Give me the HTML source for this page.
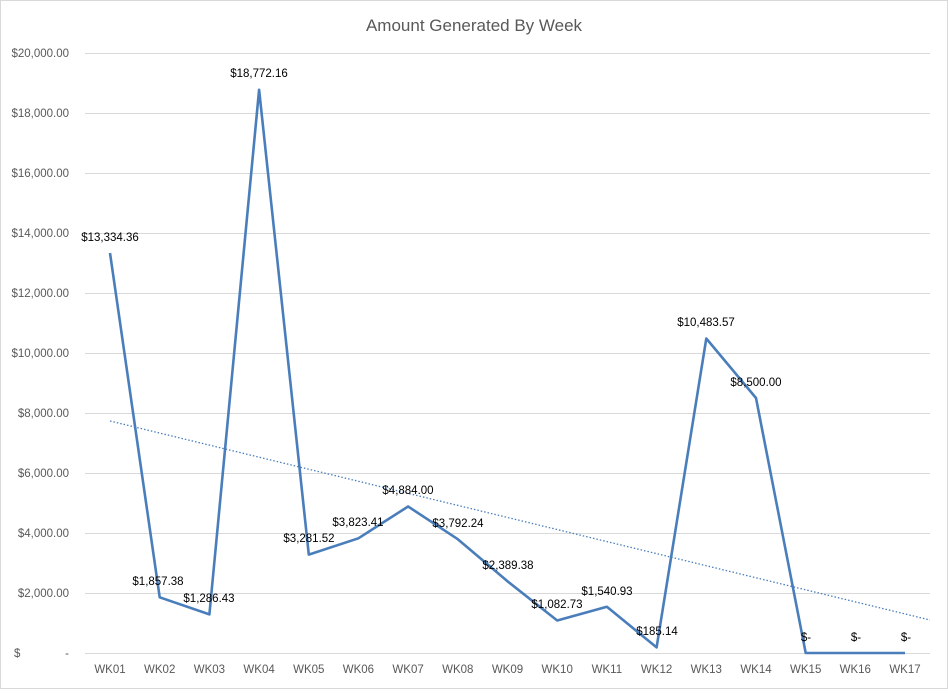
<!DOCTYPE html>
<html><head><meta charset="utf-8"><style>
body{margin:0;background:#fff;}
svg text{font-family:"Liberation Sans",sans-serif;}
</style></head><body>
<svg width="948" height="689" xmlns="http://www.w3.org/2000/svg">
<rect x="0.5" y="0.5" width="947" height="688" fill="#fff" stroke="#d9d9d9"/>
<text x="474" y="31" text-anchor="middle" font-size="17" fill="#595959">Amount Generated By Week</text>
<g stroke="#d9d9d9" stroke-width="1">
<line x1="85" x2="930" y1="53.5" y2="53.5"/><line x1="85" x2="930" y1="113.5" y2="113.5"/>
<line x1="85" x2="930" y1="173.5" y2="173.5"/><line x1="85" x2="930" y1="233.5" y2="233.5"/>
<line x1="85" x2="930" y1="293.5" y2="293.5"/><line x1="85" x2="930" y1="353.5" y2="353.5"/>
<line x1="85" x2="930" y1="413.5" y2="413.5"/><line x1="85" x2="930" y1="473.5" y2="473.5"/>
<line x1="85" x2="930" y1="533.5" y2="533.5"/><line x1="85" x2="930" y1="593.5" y2="593.5"/>
<line x1="85" x2="930" y1="653.5" y2="653.5"/>
</g>
<g font-size="11.5" fill="#595959" text-anchor="end">
<text x="69" y="57">$20,000.00</text><text x="69" y="117">$18,000.00</text>
<text x="69" y="177">$16,000.00</text><text x="69" y="237">$14,000.00</text>
<text x="69" y="297">$12,000.00</text><text x="69" y="357">$10,000.00</text>
<text x="69" y="417">$8,000.00</text><text x="69" y="477">$6,000.00</text>
<text x="69" y="537">$4,000.00</text><text x="69" y="597">$2,000.00</text>
</g>
<text x="14" y="657" font-size="11.5" fill="#595959">$</text><text x="69" y="657" font-size="11.5" fill="#595959" text-anchor="end">-</text>
<g font-size="11.5" fill="#595959" text-anchor="middle">
<text x="110" y="673">WK01</text><text x="159.7" y="673">WK02</text><text x="209.4" y="673">WK03</text>
<text x="259.1" y="673">WK04</text><text x="308.8" y="673">WK05</text><text x="358.4" y="673">WK06</text>
<text x="408.1" y="673">WK07</text><text x="457.8" y="673">WK08</text><text x="507.5" y="673">WK09</text>
<text x="557.2" y="673">WK10</text><text x="606.9" y="673">WK11</text><text x="656.6" y="673">WK12</text>
<text x="706.3" y="673">WK13</text><text x="756" y="673">WK14</text><text x="805.7" y="673">WK15</text>
<text x="855.3" y="673">WK16</text><text x="905" y="673">WK17</text>
</g>
<line x1="110" y1="421" x2="930" y2="620" stroke="#4a7ebb" stroke-width="1.3" stroke-dasharray="1.5,2"/>
<polyline fill="none" stroke="#4a7ebb" stroke-width="2.6" stroke-linejoin="round" points="110,253 159.7,597.3 209.4,614.4 259.1,89.8 308.8,554.6 358.4,538.3 408.1,506.5 457.8,539.2 507.5,581.3 557.2,620.5 606.9,606.8 656.6,647.4 706.3,338.5 756,398 805.7,653 855.3,653 905,653"/>
<g font-size="11.5" fill="#000" text-anchor="middle">
<text x="110" y="241">$13,334.36</text><text x="158" y="585">$1,857.38</text>
<text x="209" y="602">$1,286.43</text><text x="259" y="77">$18,772.16</text>
<text x="309" y="542">$3,281.52</text><text x="358" y="526">$3,823.41</text>
<text x="408" y="494">$4,884.00</text><text x="458" y="527">$3,792.24</text>
<text x="508" y="569">$2,389.38</text><text x="557" y="608">$1,082.73</text>
<text x="607" y="595">$1,540.93</text><text x="657" y="635">$185.14</text>
<text x="706" y="326">$10,483.57</text><text x="756" y="386">$8,500.00</text>
<text x="806" y="641">$-</text><text x="856" y="641">$-</text><text x="906" y="641">$-</text>
</g>
</svg>
</body></html>
